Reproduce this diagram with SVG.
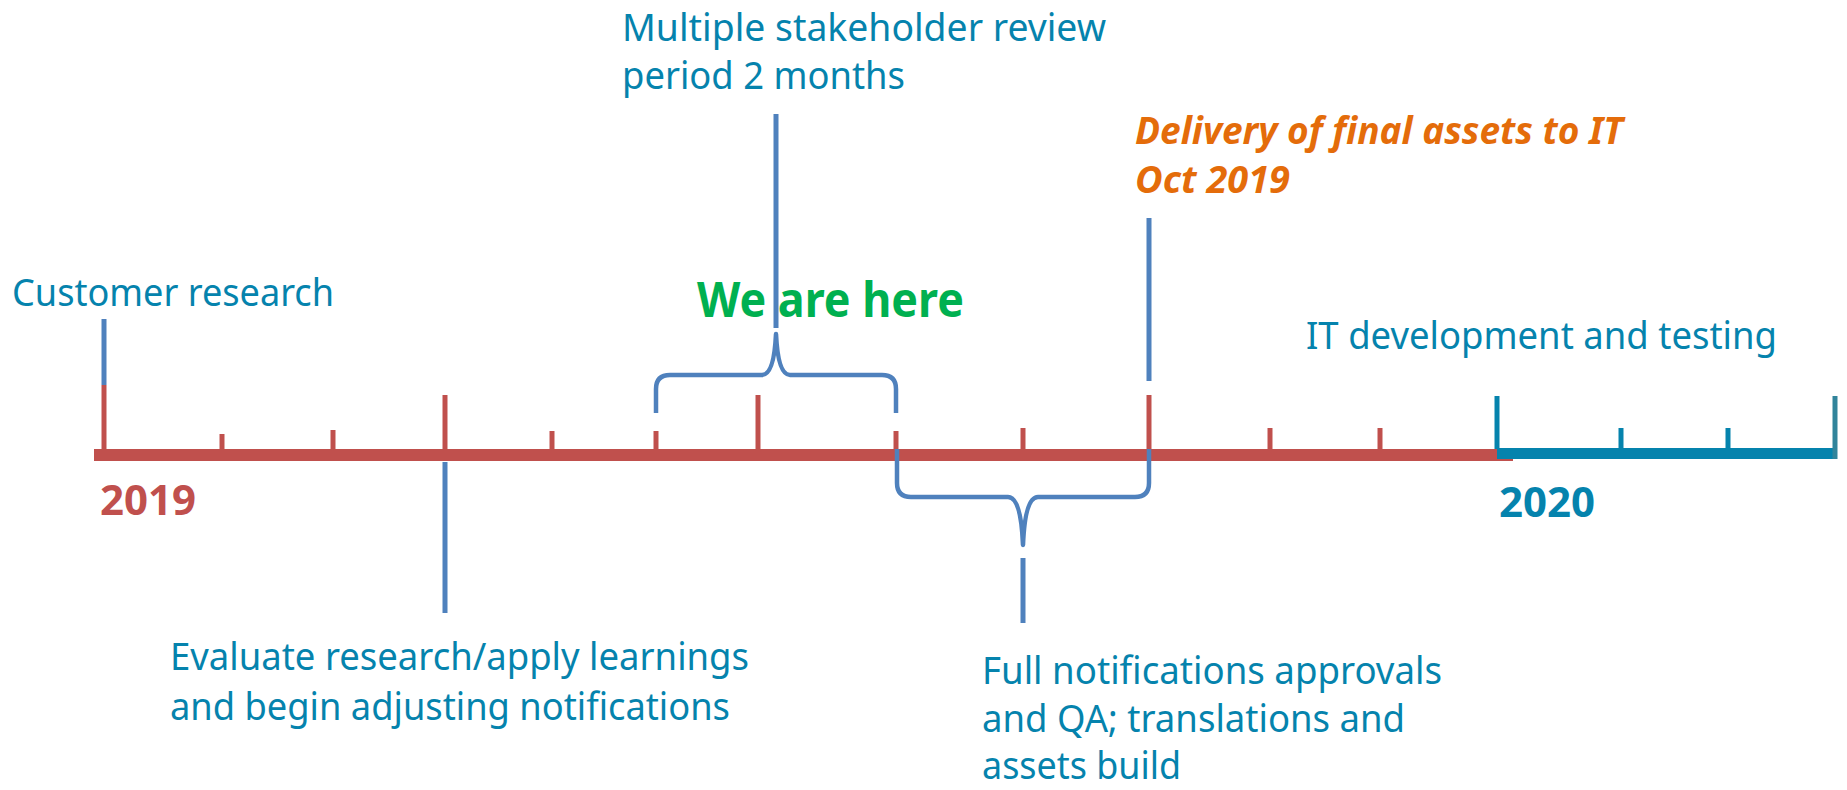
<svg xmlns="http://www.w3.org/2000/svg" width="1847" height="790" viewBox="0 0 1847 790">
<style>
.t{font-family:"Noto Sans","Open Sans","Liberation Sans",sans-serif;font-size:38px;fill:#0583AD}
.org{font-family:"Noto Sans","Open Sans","Liberation Sans",sans-serif;font-size:38px;font-weight:bold;font-style:italic;fill:#E46C0A}
.grn{font-family:"Noto Sans","Open Sans","Liberation Sans",sans-serif;font-size:48px;font-weight:bold;fill:#00B050}
.yr{font-family:"Noto Sans","Open Sans","Liberation Sans",sans-serif;font-size:42px;font-weight:bold}
.rt{stroke:#C0504D;stroke-width:5;fill:none}
.bt{stroke:#0583AD;stroke-width:5;fill:none}
.bl{stroke:#4F81BD;stroke-width:5;fill:none}
.br{stroke:#4F81BD;stroke-width:4.5;fill:none;stroke-linejoin:round}
</style>
<rect width="1847" height="790" fill="#FFFFFF"/>
<g id="connectors">
  <line x1="94" y1="455" x2="1513" y2="455" stroke="#C0504D" stroke-width="12"/>
  <line x1="1497" y1="453.5" x2="1836" y2="453.5" stroke="#0583AD" stroke-width="11"/>
  <line class="rt" x1="104" y1="385" x2="104" y2="449"/>
  <line class="rt" x1="222" y1="434" x2="222" y2="449"/>
  <line class="rt" x1="333" y1="430" x2="333" y2="449"/>
  <line class="rt" x1="445" y1="395" x2="445" y2="449"/>
  <line class="rt" x1="552" y1="431" x2="552" y2="449"/>
  <line class="rt" x1="656" y1="431" x2="656" y2="449"/>
  <line class="rt" x1="758" y1="395" x2="758" y2="449"/>
  <line class="rt" x1="896" y1="431" x2="896" y2="449"/>
  <line class="rt" x1="1023" y1="428" x2="1023" y2="449"/>
  <line class="rt" x1="1149" y1="395" x2="1149" y2="449"/>
  <line class="rt" x1="1270" y1="428" x2="1270" y2="449"/>
  <line class="rt" x1="1380" y1="428" x2="1380" y2="449"/>
  <line class="bt" x1="1497" y1="396" x2="1497" y2="449"/>
  <line class="bt" x1="1621" y1="428" x2="1621" y2="449"/>
  <line class="bt" x1="1728" y1="428" x2="1728" y2="449"/>
  <line x1="1835" y1="396" x2="1835" y2="459" stroke="#31849B" stroke-width="5"/>
  <line class="bl" x1="104" y1="319" x2="104" y2="385"/>
  <line class="bl" x1="445" y1="462" x2="445" y2="613"/>
  <line class="bl" x1="776" y1="114" x2="776" y2="328"/>
  <line class="bl" x1="1149" y1="218" x2="1149" y2="381"/>
  <line class="bl" x1="1023" y1="558" x2="1023" y2="623"/>
  <path class="br" d="M656,413 L656,389 Q656,375 670,375 L762,375 Q774,375 776,334 Q778,375 790,375 L882,375 Q896,375 896,389 L896,413"/>
  <path class="br" d="M897,449 L897,483 Q897,497 911,497 L1008,497 Q1021,497 1023,545 Q1025,497 1038,497 L1135,497 Q1149,497 1149,483 L1149,449"/>
</g>
<g id="customer-research">
  <text class="t" x="12" y="306" textLength="322" lengthAdjust="spacingAndGlyphs">Customer research</text>
</g>
<g id="stakeholder-review">
  <text class="t" x="622" y="41" textLength="484" lengthAdjust="spacingAndGlyphs">Multiple stakeholder review</text>
  <text class="t" x="622" y="89" textLength="283" lengthAdjust="spacingAndGlyphs">period 2 months</text>
</g>
<g id="delivery">
  <text class="org" x="1135" y="144" textLength="488" lengthAdjust="spacingAndGlyphs">Delivery of final assets to IT</text>
  <text class="org" x="1135" y="193" textLength="155" lengthAdjust="spacingAndGlyphs">Oct 2019</text>
</g>
<g id="we-are-here">
  <text class="grn" x="697" y="317" textLength="267" lengthAdjust="spacingAndGlyphs">We are here</text>
</g>
<g id="it-development">
  <text class="t" x="1306" y="349" textLength="471" lengthAdjust="spacingAndGlyphs">IT development and testing</text>
</g>
<g id="year-2019">
  <text class="yr" x="100" y="515" fill="#C0504D" textLength="96" lengthAdjust="spacingAndGlyphs">2019</text>
</g>
<g id="year-2020">
  <text class="yr" x="1499" y="517" fill="#0583AD" textLength="96" lengthAdjust="spacingAndGlyphs">2020</text>
</g>
<g id="evaluate-research">
  <text class="t" x="170" y="670" textLength="579" lengthAdjust="spacingAndGlyphs">Evaluate research/apply learnings</text>
  <text class="t" x="170" y="720" textLength="560" lengthAdjust="spacingAndGlyphs">and begin adjusting notifications</text>
</g>
<g id="full-notifications">
  <text class="t" x="982" y="684" textLength="460" lengthAdjust="spacingAndGlyphs">Full notifications approvals</text>
  <text class="t" x="982" y="732" textLength="423" lengthAdjust="spacingAndGlyphs">and QA; translations and</text>
  <text class="t" x="982" y="779" textLength="199" lengthAdjust="spacingAndGlyphs">assets build</text>
</g>
</svg>
